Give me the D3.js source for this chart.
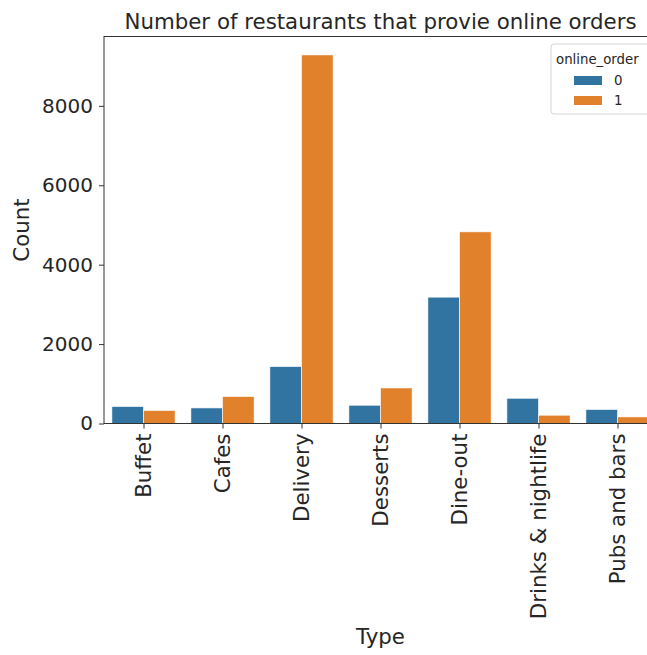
<!DOCTYPE html>
<html>
<head>
<meta charset="utf-8">
<script src="https://cdn.jsdelivr.net/npm/d3@7"></script>
<style>
  html, body { margin: 0; padding: 0; background: #fff; }
  svg { display: block; font-family: "DejaVu Sans", sans-serif; }
</style>
</head>
<body>
<svg id="chart" width="647" height="655"></svg>
<script>
const categories = ["Buffet", "Cafes", "Delivery", "Desserts", "Dine-out", "Drinks & nightlife", "Pubs and bars"];
const hues = ["0", "1"];
const offlineCounts = [427, 392, 1433, 460, 3182, 636, 352];
const onlineCounts = [327, 679, 9282, 895, 4826, 209, 166];
const yTicks = [0, 2000, 4000, 6000, 8000];
const colors = ["#3274a1", "#e1812c"];

(function () {
const series = [offlineCounts, onlineCounts];
const data = [];
categories.forEach((c, i) => hues.forEach((h, j) => data.push({ cat: c, hue: h, value: series[j][i] })));

const svg = d3.select("#chart");
const pLeft = 104, pRight = 657, pTop = 36.5, pBottom = 423.5;
const bigFont = 21.33;

const maxV = d3.max(data, d => d.value);
const step = (pRight - pLeft) / categories.length;
const xc = d3.scalePoint().domain(categories).range([pLeft + step / 2, pRight - step / 2]);
const xh = d3.scaleBand().domain(hues).range([-step * 0.4, step * 0.4]);
const y = d3.scaleLinear().domain([0, maxV * 1.05]).range([pBottom, pTop]);

// bars
svg.append("g").selectAll("rect").data(data).join("rect")
  .attr("x", d => xc(d.cat) + xh(d.hue))
  .attr("y", d => y(d.value))
  .attr("width", xh.bandwidth())
  .attr("height", d => y(0) - y(d.value))
  .attr("fill", d => colors[hues.indexOf(d.hue)])
  .attr("stroke", "#fff")
  .attr("stroke-width", 0.6);

// y axis
const yAxis = svg.append("g").attr("transform", `translate(${pLeft},0)`)
  .call(d3.axisLeft(y).tickValues(yTicks).tickSize(5).tickPadding(6).tickFormat(d3.format("d")));
yAxis.select(".domain").remove();
yAxis.selectAll("text").attr("font-size", 20).attr("fill", "#262626").attr("font-family", "DejaVu Sans");
yAxis.selectAll("line").attr("stroke", "#333");

// x axis
const xAxis = svg.append("g").attr("transform", `translate(0,${pBottom})`)
  .call(d3.axisBottom(xc).tickSize(5).tickPadding(5));
xAxis.select(".domain").remove();
xAxis.selectAll("line").attr("stroke", "#333");
xAxis.selectAll("text")
  .attr("font-size", bigFont).attr("fill", "#262626").attr("font-family", "DejaVu Sans")
  .attr("transform", "rotate(-90)")
  .attr("x", -10).attr("y", 0).attr("dy", "0.35em")
  .attr("text-anchor", "end");

// spines
svg.append("rect").attr("x", pLeft).attr("y", pTop).attr("width", pRight - pLeft).attr("height", pBottom - pTop)
  .attr("fill", "none").attr("stroke", "#333").attr("stroke-width", 1);

// title and labels
svg.append("text").attr("x", (pLeft + pRight) / 2).attr("y", 28.5).attr("text-anchor", "middle")
  .attr("font-size", bigFont).attr("fill", "#262626").text("Number of restaurants that provie online orders");
svg.append("text").attr("transform", `translate(29,${(pTop + pBottom) / 2}) rotate(-90)`).attr("text-anchor", "middle")
  .attr("font-size", bigFont).attr("fill", "#262626").text("Count");
svg.append("text").attr("x", (pLeft + pRight) / 2).attr("y", 644).attr("text-anchor", "middle")
  .attr("font-size", bigFont).attr("fill", "#262626").text("Type");

// legend
const lg = svg.append("g").attr("transform", "translate(551,44)");
lg.append("rect").attr("x", 0).attr("y", 0).attr("width", 100).attr("height", 70).attr("rx", 3)
  .attr("fill", "#fff").attr("fill-opacity", 0.8).attr("stroke", "#d6d6d6");
lg.append("text").attr("x", 5).attr("y", 20).attr("font-size", 13.3).attr("fill", "#262626").text("online_order");
hues.forEach((h, i) => {
  lg.append("rect").attr("x", 23).attr("y", 32 + i * 20).attr("width", 28).attr("height", 9).attr("fill", colors[i]);
  lg.append("text").attr("x", 63).attr("y", 41 + i * 20).attr("font-size", 13.3).attr("fill", "#262626").text(h);
});
})();
</script>
</body>
</html>
